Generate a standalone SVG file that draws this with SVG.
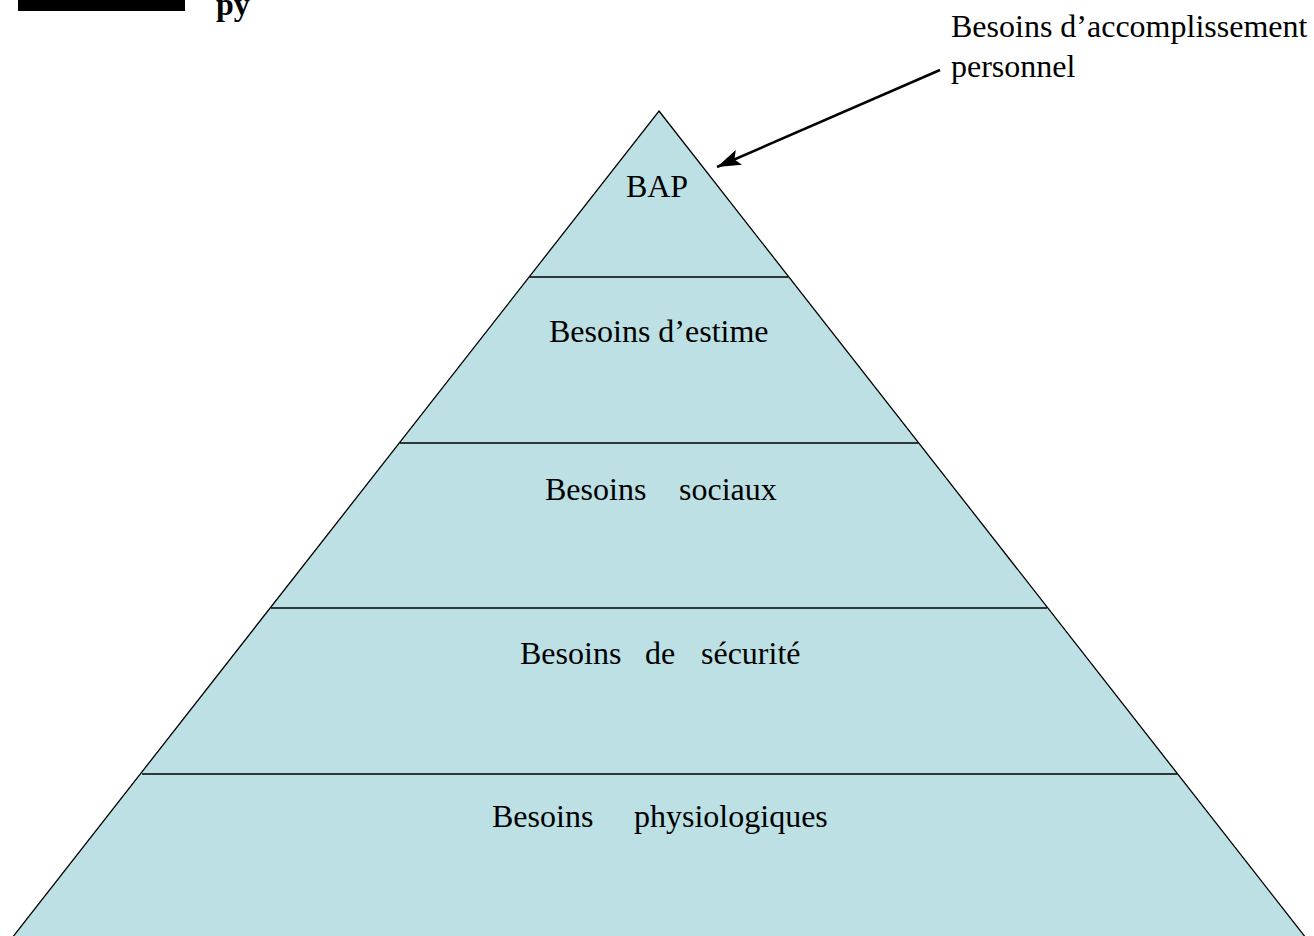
<svg xmlns="http://www.w3.org/2000/svg" width="1314" height="936" viewBox="0 0 1314 936">
<style>
  .lbl { font-family: "Liberation Serif", "Times New Roman", serif; font-size: 32px; fill: #000; }
  .tier { fill: #bce0e3; stroke: #000; stroke-width: 1.3; }
  .sep { stroke: #000; stroke-width: 1.3; fill: none; }
  .conn { stroke: #000; stroke-width: 2.5; fill: none; }
</style>
<defs>
  <marker id="arrow" viewBox="0 0 24 16" refX="24" refY="8" markerWidth="24" markerHeight="16" markerUnits="userSpaceOnUse" orient="auto">
    <path d="M0,0 L24,8 L0,16 L5,8 z" fill="#000"/>
  </marker>
</defs>
<rect x="0" y="0" width="1314" height="936" fill="#fff"/>
<g id="header">
  <rect x="18" y="0" width="167" height="11" fill="#000"/>
  <text x="216" y="15" class="lbl" style="font-weight:bold">py</text>
</g>
<g id="pyramid">
  <polygon class="tier" points="659,111 1306,938 12,938"/>
  <line class="sep" x1="529.5" y1="277" x2="788.5" y2="277"/>
  <line class="sep" x1="400" y1="443" x2="918" y2="443"/>
  <line class="sep" x1="271" y1="608" x2="1047" y2="608"/>
  <line class="sep" x1="142" y1="774" x2="1177" y2="774"/>
</g>
<g id="node-bap">
  <text x="657" y="197" class="lbl" text-anchor="middle">BAP</text>
</g>
<g id="node-estime">
  <text x="549" y="342" class="lbl">Besoins d’estime</text>
</g>
<g id="node-sociaux">
  <text y="500" class="lbl"><tspan x="545">Besoins</tspan><tspan x="679">sociaux</tspan></text>
</g>
<g id="node-securite">
  <text y="664" class="lbl"><tspan x="520">Besoins</tspan><tspan x="645">de</tspan><tspan x="701">sécurité</tspan></text>
</g>
<g id="node-physio">
  <text y="827" class="lbl"><tspan x="492">Besoins</tspan><tspan x="634">physiologiques</tspan></text>
</g>
<g id="node-accomplissement">
  <text class="lbl"><tspan x="951" y="37">Besoins d’accomplissement</tspan><tspan x="951" y="77">personnel</tspan></text>
</g>
<g id="connectors">
  <line class="conn" x1="940" y1="70" x2="717" y2="167" marker-end="url(#arrow)"/>
</g>
</svg>
